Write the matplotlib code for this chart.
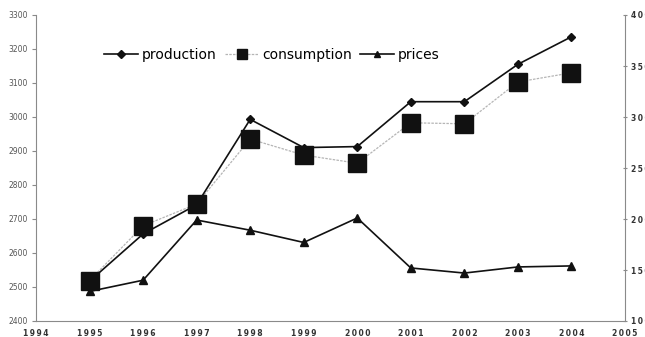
import matplotlib
matplotlib.use("Agg")
import matplotlib.pyplot as plt
from matplotlib.lines import Line2D

years = [1995, 1996, 1997, 1998, 1999, 2000, 2001, 2002, 2003, 2004]
production = [2517, 2656, 2742, 2993, 2910, 2913, 3045, 3045, 3155, 3236]
consumption = [2519, 2680, 2744, 2935, 2888, 2864, 2983, 2980, 3103, 3130]
prices = [129, 140, 199, 189, 177, 201, 152, 147, 153, 154]

x_ticks = list(range(1994, 2006))
left_ticks = list(range(2400, 3301, 100))
right_ticks = list(range(100, 401, 50))


def spaced(v):
    # widen the digits a little, like the letter-spaced axis font
    return "\u2009".join(str(v))


fig = plt.figure(figsize=(6.45, 3.37), dpi=100)
ax = fig.add_axes([36 / 645, 1 - 321 / 337, (625 - 36) / 645, (321 - 15) / 337])
ax2 = ax.twinx()

axis_grey = "#8a8a8a"
label_kw = dict(fontsize=5.5, fontweight="bold", color="#333333")

ax.plot(years, consumption, color="#b5b5b5", lw=0.9, ls=(0, (2, 1)),
        marker="s", ms=13, mfc="#111111", mec="#111111", zorder=3)
ax.plot(years, production, color="#111111", lw=1.2,
        marker="D", ms=4.5, mfc="#111111", mec="#111111", zorder=4)
ax2.plot(years, prices, color="#111111", lw=1.2,
         marker="^", ms=6, mfc="#111111", mec="#111111", zorder=4)

ax.set_xlim(1994, 2005)
ax.set_ylim(2400, 3300)
ax2.set_ylim(100, 400)

ax.set_xticks(x_ticks)
ax.set_xticklabels([spaced(y) for y in x_ticks], **label_kw)
ax.set_yticks(left_ticks)
ax.set_yticklabels([str(v) for v in left_ticks], fontsize=5.5, color="#555555")
ax2.set_yticks(right_ticks)
ax2.set_yticklabels([spaced(v) for v in right_ticks], **label_kw)

for a in (ax, ax2):
    a.spines["top"].set_visible(False)
    for s in ("left", "right", "bottom"):
        a.spines[s].set_color(axis_grey)
        a.spines[s].set_linewidth(0.8)
ax.spines["right"].set_visible(False)
ax2.spines["left"].set_visible(False)
ax2.spines["bottom"].set_visible(False)

ax.tick_params(axis="x", length=0, pad=6)
ax.tick_params(axis="y", length=3, color=axis_grey, pad=3)
ax2.tick_params(axis="y", length=3, color=axis_grey, direction="inout", pad=3)

handles = [
    Line2D([], [], color="#111111", lw=1.2, marker="D", ms=4, mfc="#111111"),
    Line2D([], [], color="#b5b5b5", lw=0.9, ls=(0, (2, 1)), marker="s", ms=7,
           mfc="#111111", mec="#111111"),
    Line2D([], [], color="#111111", lw=1.2, marker="^", ms=5, mfc="#111111"),
]
fig.legend(handles, ["production", "consumption", "prices"],
           loc="center", bbox_to_anchor=(272 / 645, 1 - 55 / 337),
           ncol=3, frameon=False, fontsize=10, handlelength=2.4,
           handletextpad=0.3, columnspacing=0.6)

fig.savefig("out.png", dpi=100, facecolor="white")
